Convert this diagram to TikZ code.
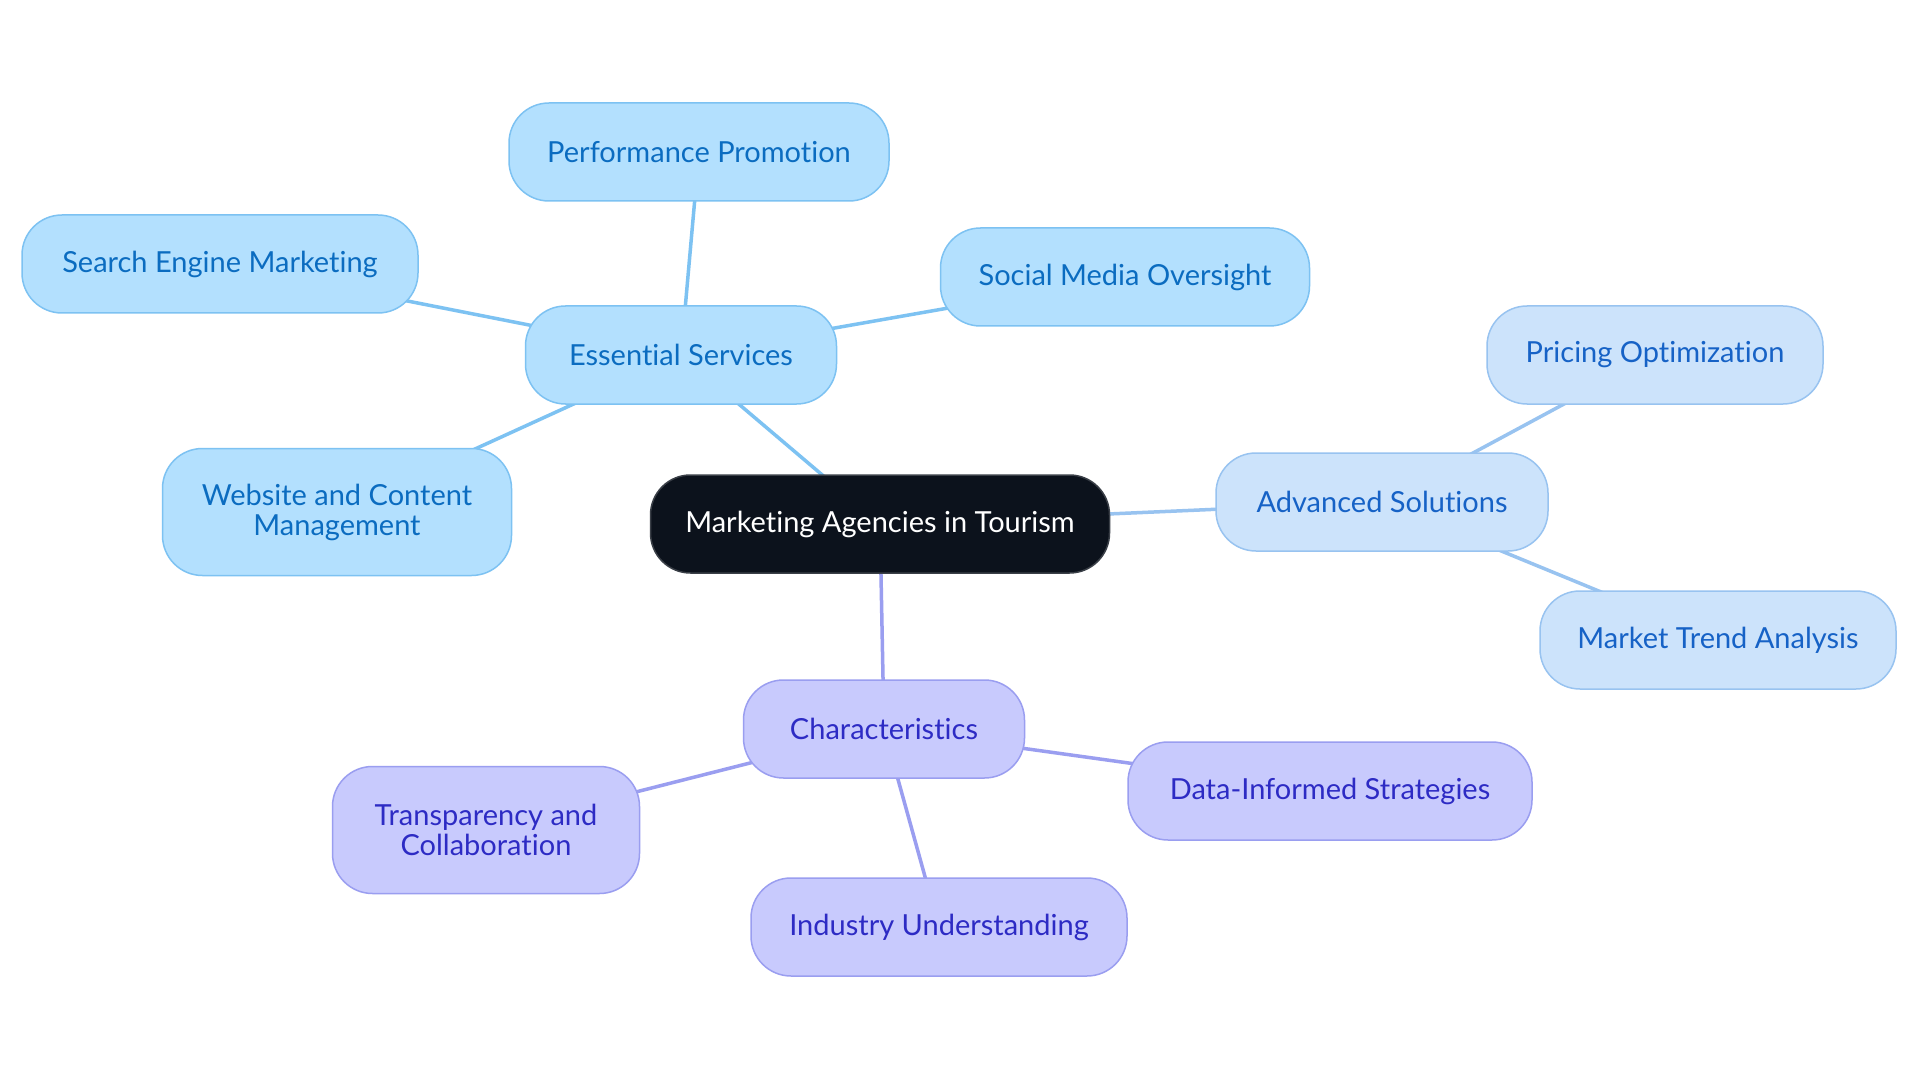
\documentclass[tikz,border=0pt]{standalone}
\usepackage{fontspec}
\setmainfont{Lato}[Ligatures={NoCommon}]
\usetikzlibrary{backgrounds}
\definecolor{esfill}{HTML}{B3E0FE}
\definecolor{esdraw}{HTML}{7DC2F2}
\definecolor{estext}{HTML}{0B6CC0}
\definecolor{asfill}{HTML}{CCE3FB}
\definecolor{asdraw}{HTML}{98C3F0}
\definecolor{astext}{HTML}{1662C6}
\definecolor{chfill}{HTML}{C8CAFD}
\definecolor{chdraw}{HTML}{9A9EF0}
\definecolor{chtext}{HTML}{2D2BC4}
\definecolor{ctfill}{HTML}{0C121C}
\definecolor{ctdraw}{HTML}{3A3F47}
\tikzset{
  box/.style={rounded corners=40pt, line width=1.5pt, align=center, inner sep=0pt,
    font=\fontsize{29}{30}\selectfont},
  esbox/.style={box, fill=esfill, draw=esdraw, text=estext},
  asbox/.style={box, fill=asfill, draw=asdraw, text=astext},
  chbox/.style={box, fill=chfill, draw=chdraw, text=chtext},
  ctbox/.style={box, fill=ctfill, draw=ctdraw, text=white},
  esline/.style={draw=esdraw, line width=3.5pt},
  asline/.style={draw=asdraw, line width=3.5pt},
  chline/.style={draw=chdraw, line width=3.5pt},
}
\begin{document}
\begin{tikzpicture}[x=1pt,y=-1pt]
\useasboundingbox (0,0) rectangle (1920,1083);
% nodes
\node[ctbox, minimum width=459pt, minimum height=98pt] (ct) at (880,524) {Marketing Agencies in Tourism};
\node[esbox, minimum width=311pt, minimum height=98pt] (es) at (681,355) {Essential Services};
\node[esbox, minimum width=380pt, minimum height=98pt] (pp) at (699,152) {Performance Promotion};
\node[esbox, minimum width=396pt, minimum height=98pt] (sem) at (220,264) {Search Engine Marketing};
\node[esbox, minimum width=369pt, minimum height=98pt] (smo) at (1125,277) {Social Media Oversight};
\node[esbox, minimum width=349pt, minimum height=127pt] (wcm) at (337,512) {Website and Content\\Management};
\node[asbox, minimum width=332pt, minimum height=98pt] (as) at (1382,502) {Advanced Solutions};
\node[asbox, minimum width=336pt, minimum height=98pt] (po) at (1655,355) {Pricing Optimization};
\node[asbox, minimum width=356pt, minimum height=98pt] (mta) at (1718,640) {Market Trend Analysis};
\node[chbox, minimum width=281pt, minimum height=98pt] (ch) at (884,729) {Characteristics};
\node[chbox, minimum width=404pt, minimum height=98pt] (dis) at (1330,791) {Data-Informed Strategies};
\node[chbox, minimum width=307pt, minimum height=127pt] (tc) at (486,830) {Transparency and\\Collaboration};
\node[chbox, minimum width=376pt, minimum height=98pt] (iu) at (939,927) {Industry Understanding};
% edges
\begin{pgfonlayer}{background}
\fill[white] (0,0) rectangle (1920,1083);
\draw[esline] (ct.center) -- (es.center);
\draw[esline] (es.center) -- (pp.center);
\draw[esline] (es.center) -- (sem.center);
\draw[esline] (es.center) -- (smo.center);
\draw[esline] (es.center) -- (wcm.center);
\draw[asline] (ct.center) -- (as.center);
\draw[asline] (as.center) -- (po.center);
\draw[asline] (as.center) -- (mta.center);
\draw[chline] (ct.center) -- (ch.center);
\draw[chline] (ch.center) -- (dis.center);
\draw[chline] (ch.center) -- (tc.center);
\draw[chline] (ch.center) -- (iu.center);
\end{pgfonlayer}
\end{tikzpicture}
\end{document}
